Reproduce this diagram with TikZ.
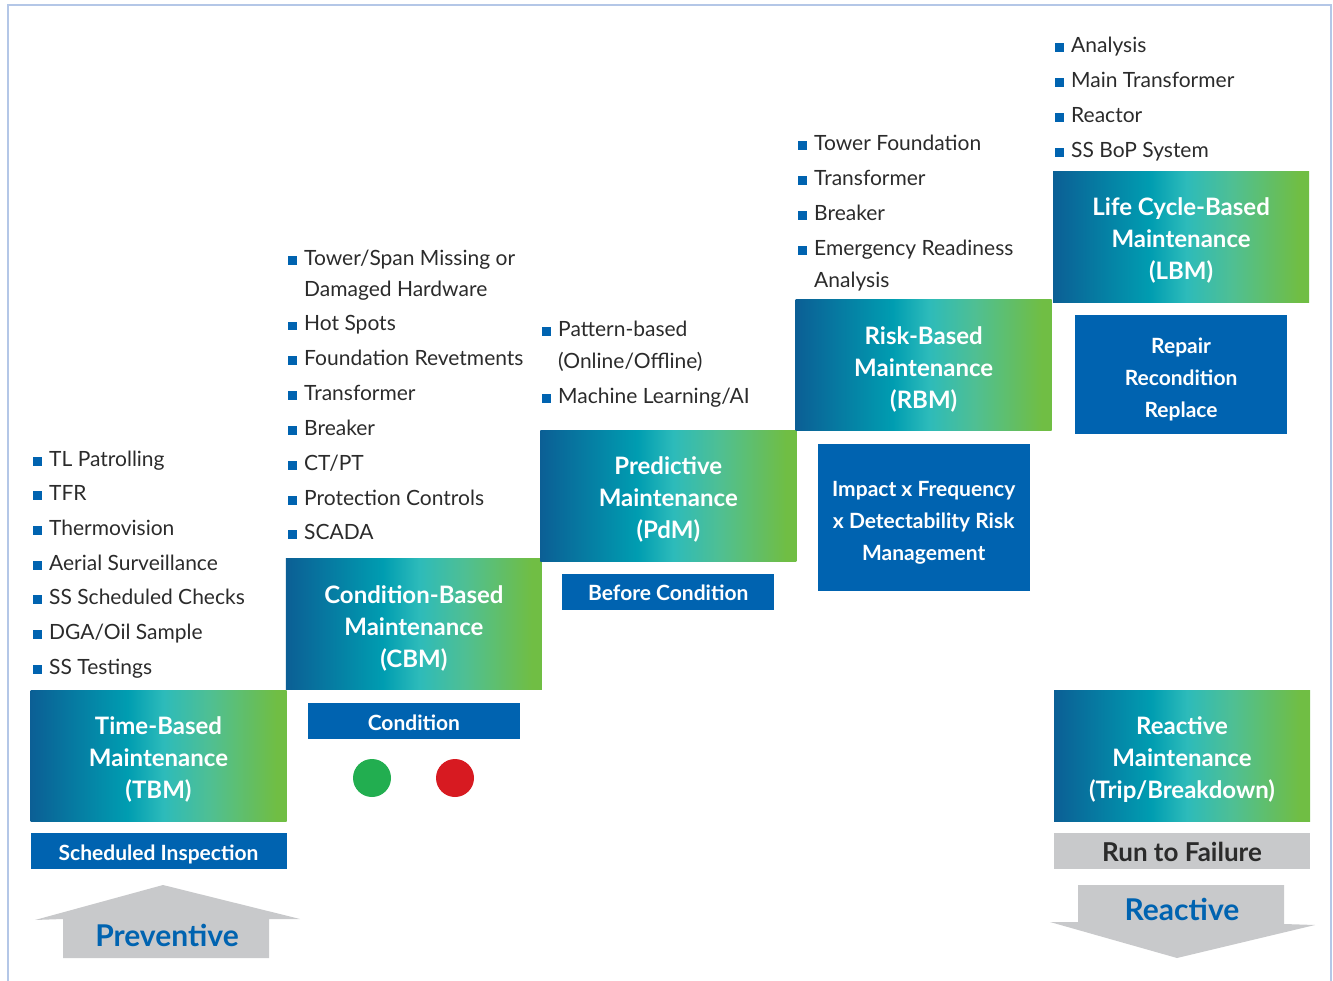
\documentclass[tikz,border=0pt]{standalone}
\usepackage{fontspec}
\setmainfont{Lato}
\usepackage{tikz}
\usetikzlibrary{positioning}
\definecolor{frameblue}{HTML}{B4C7E7}
\definecolor{barblue}{HTML}{0063B0}
\definecolor{txtgray}{HTML}{2B2B2B}
\definecolor{signgray}{HTML}{C8C9CB}
\definecolor{gA}{HTML}{0B5F95}
\definecolor{gB}{HTML}{009DB1}
\definecolor{gC}{HTML}{2DBBBA}
\definecolor{gD}{HTML}{4FBF93}
\definecolor{gE}{HTML}{70BE44}
\definecolor{okgreen}{HTML}{22AE50}
\definecolor{stopred}{HTML}{D71A21}
\pgfdeclarehorizontalshading{stagegrad}{100bp}{color(0bp)=(gA); color(25bp)=(gA);
  color(44bp)=(gB); color(51bp)=(gC); color(60bp)=(gD); color(73bp)=(gE); color(100bp)=(gE)}
\newcommand{\sqb}{\textcolor{barblue}{\rule[0.5pt]{9pt}{9pt}}\hspace{7pt}}

\begin{document}
\begin{tikzpicture}[x=1pt,y=-1pt,
  font=\fontsize{21}{24}\selectfont,
  stage/.style={rectangle,inner sep=0pt,minimum width=256pt,minimum height=131pt,
    shading=stagegrad,text=white,font=\fontsize{24}{32}\selectfont\bfseries,align=center,
    text height=86pt,text depth=0pt},
  bar/.style={rectangle,inner sep=0pt,fill=barblue,text=white,
    font=\fontsize{21}{32}\selectfont\bfseries,align=center,text height=18pt,text depth=0pt},
  item/.style={anchor=base west,inner sep=0pt,text=txtgray},
  sign/.style={fill=signgray,draw=none},
  signtext/.style={text=barblue,font=\fontsize{30}{36}\selectfont\bfseries},
  dot/.style={circle,inner sep=0pt,minimum size=38pt}]
\useasboundingbox (0,0) rectangle (1333,981);
% frame
\draw[frameblue,line width=1.5pt] (8,981) -- (8,5) -- (1331,5) -- (1331,981);
% staircase of stages
\node[stage] (tbm) at (158.5,755.5) {Time-Based\\Maintenance\\(TBM)};
\node[stage,above right=0pt and -1pt of tbm] (cbm) {Condition-Based\\Maintenance\\(CBM)};
\node[stage,above right=-3pt and -2pt of cbm] (pdm) {Predictive\\Maintenance\\(PdM)};
\node[stage,above right=-1pt and -1pt of pdm] (rbm) {Risk-Based\\Maintenance\\(RBM)};
\node[stage,above right=-3pt and 1pt of rbm] (lbm) {Life Cycle-Based\\Maintenance\\(LBM)};
\node[stage] (rm) at (1182,755.5) {Reactive\\Maintenance\\(Trip/Breakdown)};
% bars under the stages
\node[bar,minimum width=256pt,minimum height=36pt,below=12pt of tbm] (sched) {Scheduled Inspection};
\node[bar,minimum width=212pt,minimum height=36pt,below=13pt of cbm] (cond) {Condition};
\node[bar,minimum width=212pt,minimum height=36pt,below=12pt of pdm] (before) {Before Condition};
\node[bar,minimum width=212pt,minimum height=147pt,text height=86pt,below=13pt of rbm] (risk)
  {Impact x Frequency\\x Detectability Risk\\Management};
\node[bar,minimum width=212pt,minimum height=119pt,text height=87pt,below=12pt of lbm] (repair)
  {Repair\\Recondition\\Replace};
\node[bar,fill=signgray,text=txtgray,font=\fontsize{26}{30}\selectfont\bfseries,text height=20pt,
  minimum width=256pt,minimum height=36pt,below=12pt of rm] (rtf) {Run to Failure};
% condition lights
\node[dot,fill=okgreen] (ok) at (372,778) {};
\node[dot,fill=stopred] (bad) at (455,778) {};
% lists
\foreach \t [count=\i from 0] in {TL Patrolling,TFR,Thermovision,Aerial Surveillance,
  SS Scheduled Checks,DGA/Oil Sample,SS Testings}
  \node[item] (tbml\i) at (33,466+34.7*\i) {\sqb\t};
\node[item] (cbmt) at (288,266) {\sqb Tower/Span Missing or};
\node[item] (cbmt2) at (304,297) {Damaged Hardware};
\foreach \t [count=\i from 0] in {Hot Spots,Foundation Revetments,Transformer,Breaker,
  CT/PT,Protection Controls,SCADA}
  \node[item] (cbml\i) at (288,331+34.8*\i) {\sqb\t};
\node[item] (pdml0) at (542,337) {\sqb Pattern-based};
\node[item] (pdml0b) at (558,369) {(Online/Offline)};
\node[item] (pdml1) at (542,403) {\sqb Machine Learning/AI};
\foreach \t [count=\i from 0] in {Tower Foundation,Transformer,Breaker,Emergency Readiness}
  \node[item] (rbml\i) at (798,151+35*\i) {\sqb\t};
\node[item] (rbml3b) at (814,288) {Analysis};
\foreach \t [count=\i from 0] in {Analysis,Main Transformer,Reactor,SS BoP System}
  \node[item] (lbml\i) at (1055,53+34.7*\i) {\sqb\t};
% direction signs
\fill[sign] (163,885) -- (300,919) -- (269,919) -- (269,958) -- (63,958) -- (63,919)
  -- (35,920) -- cycle;
\node[signtext] (prev) at (167,935) {Preventive};
\fill[sign] (1078,885) -- (1284,885) -- (1284,924) -- (1315,925) -- (1177,958)
  -- (1050,922) -- (1078,922) -- cycle;
\node[signtext] (react) at (1182,909) {Reactive};
\end{tikzpicture}
\end{document}
